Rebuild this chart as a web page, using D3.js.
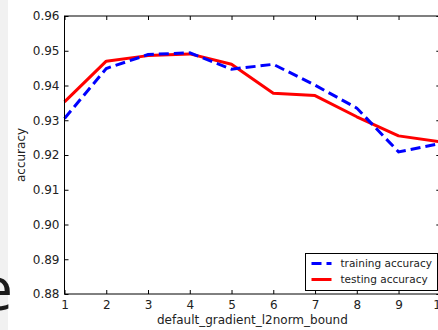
<!DOCTYPE html>
<html>
<head>
<meta charset="utf-8">
<script src="https://cdn.jsdelivr.net/npm/d3@7"></script>
<style>
  html, body { margin: 0; padding: 0; background: #fff; }
  svg { display: block; }
</style>
</head>
<body>
<script>
// Accuracy per value of default_gradient_l2norm_bound
const boundValues = [1, 2, 3, 4, 5, 6, 7, 8, 9, 10];
const trainingAccuracy = [0.9305, 0.9449, 0.9489, 0.9494, 0.9447, 0.9461, 0.9401, 0.9335, 0.9209, 0.9233];
const testingAccuracy  = [0.9353, 0.9470, 0.9486, 0.9491, 0.9461, 0.9378, 0.9371, 0.9310, 0.9255, 0.9238];
const yTickValues = [0.88, 0.89, 0.90, 0.91, 0.92, 0.93, 0.94, 0.95, 0.96];
const xTickValues = [1, 2, 3, 4, 5, 6, 7, 8, 9, 10];
const seriesNames = ["training accuracy", "testing accuracy"];

const W = 438, H = 330;
const font = "'DejaVu Sans', sans-serif";

const svg = d3.select("body").append("svg")
  .attr("width", W).attr("height", H);

// page strip and partial slide text on the left edge
svg.append("rect").attr("x", 0).attr("y", 0).attr("width", 8).attr("height", H)
  .attr("fill", "#f1f1f1");
svg.append("text").attr("x", 13).attr("y", 310)
  .attr("text-anchor", "end")
  .attr("font-family", "'Open Sans', sans-serif")
  .attr("font-size", 60).attr("fill", "#1a1a1a")
  .text("e");

const x = d3.scaleLinear().domain([1, 10]).range([64.5, 440.3]);
const y = d3.scaleLinear().domain([0.88, 0.96]).range([294, 16]);

const g = svg.append("g");

// lines
const line = d3.line().x((d, i) => x(boundValues[i])).y(d => y(d));

g.append("path").datum(testingAccuracy)
  .attr("d", line).attr("fill", "none")
  .attr("stroke", "#ff0000").attr("stroke-width", 3)
  .attr("stroke-linejoin", "round");

g.append("path").datum(trainingAccuracy)
  .attr("d", line).attr("fill", "none")
  .attr("stroke", "#0000ff").attr("stroke-width", 3)
  .attr("stroke-dasharray", "10,5");

// frame
const x0 = x.range()[0], x1 = x.range()[1], y0 = y.range()[0], y1 = y.range()[1];
g.append("rect").attr("x", x0).attr("y", y1)
  .attr("width", x1 - x0).attr("height", y0 - y1)
  .attr("fill", "none").attr("stroke", "#000").attr("stroke-width", 1);

// axes with inward ticks
const axB = d3.axisBottom(x).tickValues(xTickValues).tickFormat(d3.format("d"))
  .tickSizeInner(-4).tickSizeOuter(0).tickPadding(6);
const axL = d3.axisLeft(y).tickValues(yTickValues).tickFormat(d3.format(".2f"))
  .tickSizeInner(-4).tickSizeOuter(0).tickPadding(5);
const axT = d3.axisTop(x).tickValues(xTickValues).tickFormat("")
  .tickSizeInner(-4).tickSizeOuter(0);
const axR = d3.axisRight(y).tickValues(yTickValues).tickFormat("")
  .tickSizeInner(-4).tickSizeOuter(0);

function style(sel) {
  sel.select(".domain").remove();
  sel.selectAll("line").attr("stroke", "#000");
  sel.selectAll("text").attr("font-family", font).attr("font-size", 12).attr("fill", "#222");
}
g.append("g").attr("transform", `translate(0,${y0})`).call(axB).call(style);
g.append("g").attr("transform", `translate(${x0},0)`).call(axL).call(style);
g.append("g").attr("transform", `translate(0,${y1})`).call(axT).call(style);
g.append("g").attr("transform", `translate(${x1},0)`).call(axR).call(style);

// axis titles
svg.append("text").attr("x", (x0 + x1) / 2).attr("y", 324)
  .attr("text-anchor", "middle").attr("font-family", font).attr("font-size", 12)
  .attr("fill", "#222").text("default_gradient_l2norm_bound");
svg.append("text")
  .attr("transform", `translate(25,${(y0 + y1) / 2}) rotate(-90)`)
  .attr("text-anchor", "middle").attr("font-family", font).attr("font-size", 12)
  .attr("fill", "#222").text("accuracy");

// legend
const leg = svg.append("g").attr("transform", "translate(305.5,253.5)");
leg.append("rect").attr("width", 132).attr("height", 37)
  .attr("fill", "#fff").attr("stroke", "#000").attr("stroke-width", 1);
const legStyles = [
  { color: "#0000ff", dash: "10,5" },
  { color: "#ff0000", dash: null }
];
seriesNames.forEach((name, i) => {
  const ry = 10 + i * 16;
  leg.append("line").attr("x1", 6).attr("x2", 26).attr("y1", ry).attr("y2", ry)
    .attr("stroke", legStyles[i].color).attr("stroke-width", 3)
    .attr("stroke-dasharray", legStyles[i].dash);
  leg.append("text").attr("x", 35).attr("y", ry + 3.8)
    .attr("font-family", font).attr("font-size", 10.5).attr("fill", "#222")
    .text(name);
});
</script>
</body>
</html>
